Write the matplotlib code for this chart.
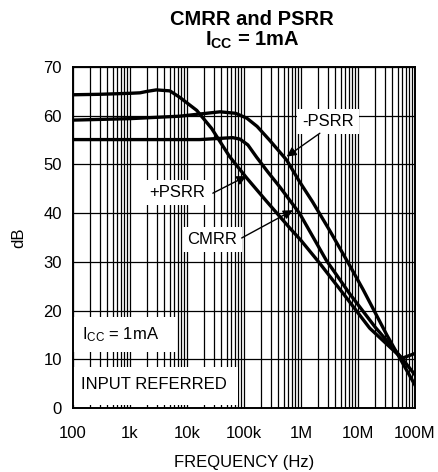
import matplotlib
matplotlib.use("Agg")
import matplotlib.pyplot as plt
from matplotlib.patches import Rectangle
from matplotlib.ticker import FixedLocator, LogLocator, NullFormatter

plt.rcParams['font.family'] = ['Liberation Sans', 'DejaVu Sans']
plt.rcParams['mathtext.fontset'] = 'custom'
plt.rcParams['mathtext.rm'] = 'Liberation Sans'
plt.rcParams['mathtext.it'] = 'Liberation Sans:italic'
plt.rcParams['mathtext.bf'] = 'Liberation Sans:bold'

# ---- data ----
pos_psrr_f = [100, 300, 1e3, 1.5e3, 2e3, 2.9e3, 5e3, 7.4e3, 1.48e4, 2.7e4, 5.6e4, 1.1e5,
              2.5e5, 6.3e5, 1e6, 2.1e6, 5.5e6, 1.6e7, 5.9e7, 1e8]
pos_psrr_db = [64.3, 64.4, 64.6, 64.7, 65.0, 65.3, 65.1, 63.8, 61.1, 57.4, 51.6, 47.3,
               42.4, 37.0, 34.4, 29.8, 23.5, 16.4, 10.2, 11.2]

neg_psrr_f = [100, 1e3, 7.4e3, 3.8e4, 7.1e4, 1.12e5, 1.7e5, 2.8e5, 5.6e5, 9.5e5,
              1.6e6, 3.2e6, 7.2e6, 1.23e7, 3.2e7, 1e8]
neg_psrr_db = [59.1, 59.4, 59.9, 60.8, 60.5, 59.5, 57.8, 55.0, 50.9, 46.4,
               42.3, 36.4, 29.2, 24.3, 15.0, 4.7]

cmrr_f = [100, 1e3, 1e4, 1.66e4, 6.3e4, 8.5e4, 1.17e5, 1.66e5, 2.6e5, 4.3e5, 9.5e5,
          2.75e6, 7.2e6, 2e7, 5.9e7, 1e8]
cmrr_db = [55.1, 55.1, 55.1, 55.1, 55.5, 55.2, 54.0, 51.5, 48.5, 45.3, 39.9,
           30.4, 23.4, 16.6, 10.2, 6.8]

xticks = [1e2, 1e3, 1e4, 1e5, 1e6, 1e7, 1e8]
xticklabels = ['100', '1k', '10k', '100k', '1M', '10M', '100M']
yticks = [0, 10, 20, 30, 40, 50, 60, 70]

# ---- figure ----
fig = plt.figure(figsize=(4.38, 4.72), dpi=100)
ax = fig.add_axes([73/438, 1-408/472, (415-73)/438, (408-67)/472])

ax.set_xscale('log')
ax.set_xlim(1e2, 1e8)
ax.set_ylim(0, 70)

ax.xaxis.set_major_locator(FixedLocator(xticks))
ax.set_xticklabels(xticklabels)
ax.xaxis.set_minor_locator(LogLocator(base=10, subs=range(2, 10), numticks=50))
ax.xaxis.set_minor_formatter(NullFormatter())
ax.set_yticks(yticks)

ax.grid(True, which='major', color='black', lw=0.9, zorder=1)
ax.grid(True, which='minor', axis='x', color='black', lw=0.9, zorder=1)
ax.set_axisbelow(True)
ax.tick_params(which='both', length=0, labelsize=12)
ax.tick_params(axis='x', pad=13)
ax.tick_params(axis='y', pad=8)
for s in ax.spines.values():
    s.set_linewidth(1.4)

lw = 2.4
for f, db in ((pos_psrr_f, pos_psrr_db), (neg_psrr_f, neg_psrr_db), (cmrr_f, cmrr_db)):
    ax.plot(f, db, color='black', lw=lw, zorder=4, solid_joinstyle='round')

ax.set_xlabel('FREQUENCY (Hz)', fontsize=12, labelpad=10)
ax.set_ylabel('dB', fontsize=12, labelpad=12)

# white boxes for the lower-left notes
ax.add_patch(Rectangle((0, 0.164), 0.301, 0.103, transform=ax.transAxes,
                       facecolor='white', edgecolor='none', zorder=2))
ax.add_patch(Rectangle((0, 0.009), 0.482, 0.111, transform=ax.transAxes,
                       facecolor='white', edgecolor='none', zorder=2))
ax.text(0.026, 0.214, r'$\mathrm{I_{CC}}$ = 1mA', transform=ax.transAxes,
        fontsize=12, ha='left', va='center', zorder=3)
ax.text(0.022, 0.068, 'INPUT REFERRED', transform=ax.transAxes,
        fontsize=12, ha='left', va='center', zorder=3)

# curve labels with arrows
box = dict(boxstyle='square,pad=0.3', fc='white', ec='none')
arrow = dict(arrowstyle='-|>', color='black', lw=1.0, mutation_scale=14,
             shrinkA=0, shrinkB=0)
ax.text(2.95e6, 58.9, '-PSRR', fontsize=12, ha='center', va='center',
        bbox=box, zorder=3)
ax.annotate('', xy=(5.6e5, 51.6), xytext=(2.14e6, 56.4), arrowprops=arrow, zorder=5)

ax.text(6.6e3, 44.2, '+PSRR', fontsize=12, ha='center', va='center',
        bbox=box, zorder=3)
ax.annotate('', xy=(1.1e5, 47.6), xytext=(2.84e4, 44.1), arrowprops=arrow, zorder=5)

ax.text(2.8e4, 34.5, 'CMRR', fontsize=12, ha='center', va='center',
        bbox=box, zorder=3)
ax.annotate('', xy=(7.2e5, 40.6), xytext=(9.1e4, 34.9), arrowprops=arrow, zorder=5)

fig.text(252/438, 1-19.5/472, 'CMRR and PSRR', fontsize=14.5, fontweight='bold',
         ha='center', va='center')
fig.text(252/438, 1-40/472, r'$\mathbf{I_{CC}}$ = 1mA', fontsize=14.5,
         fontweight='bold', ha='center', va='center')

fig.savefig('out.png', dpi=100)
